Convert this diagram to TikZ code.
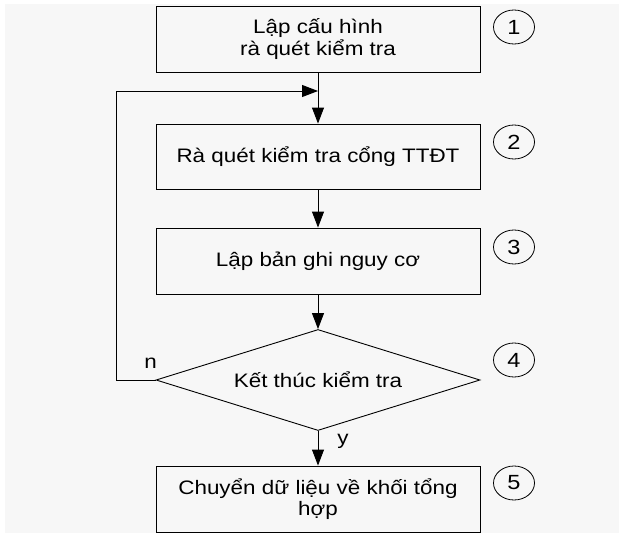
\documentclass[tikz,border=0pt]{standalone}
\usepackage{fontspec}
\setmainfont{Liberation Sans}[FakeStretch=1.15]
\usetikzlibrary{shapes.geometric,arrows.meta}
\definecolor{bgcol}{HTML}{F7F7F7}
\tikzset{
  box/.style={draw=black, line width=0.9pt, minimum width=324pt, inner sep=0pt, align=center},
  numc/.style={ellipse, draw=black, line width=0.8pt, minimum width=41pt, minimum height=34pt, inner sep=0pt, font=\fontsize{20.5}{22}\selectfont},
  arr/.style={draw=black, line width=0.9pt, -{Triangle[length=16pt,width=12pt]}},
  lab/.style={inner sep=0pt}
}
\begin{document}
\begin{tikzpicture}[x=1pt,y=-1pt,font=\fontsize{19.5}{21.7}\selectfont]
\useasboundingbox (0,0) rectangle (619,533);
\fill[white] (0,0) rectangle (619,533);
\fill[bgcol] (5,4) rectangle (619,533);

\node[box, minimum height=66pt] (b1) at (318,39) {Lập cấu hình\\rà quét kiểm tra};
\node[box, minimum height=65pt] (b2) at (318,156.5) {Rà quét kiểm tra cổng TTĐT};
\node[box, minimum height=66pt] (b3) at (318,261) {Lập bản ghi nguy cơ};
\node[diamond, draw=black, line width=0.9pt, minimum width=324pt, minimum height=101pt, inner sep=0pt] (d) at (318,380) {};
\node[lab] (dt) at (d.center) {Kết thúc kiểm tra};
\node[box, minimum height=66pt] (b5) at (318,499) {Chuyển dữ liệu về khối tổng\\hợp};

\node[numc] (c1) at (514,27) {1};
\node[numc] (c2) at (514,142) {2};
\node[numc] (c3) at (514,247) {3};
\node[numc] (c4) at (514,360) {4};
\node[numc] (c5) at (514,483) {5};

\coordinate (j) at (318,91);
\coordinate (lc) at (116,91);

\draw[arr] (b1.south) -- (b2.north);
\draw[arr] (b2.south) -- (b3.north);
\draw[arr] (b3.south) -- (d.north);
\draw[arr] (d.south) -- (b5.north);
\draw[arr] (d.west) -| (lc) -- (j);

\node[lab] (n) at (150.5,363.5) {n};
\node[lab] (y) at (343,441) {y};
\end{tikzpicture}
\end{document}
